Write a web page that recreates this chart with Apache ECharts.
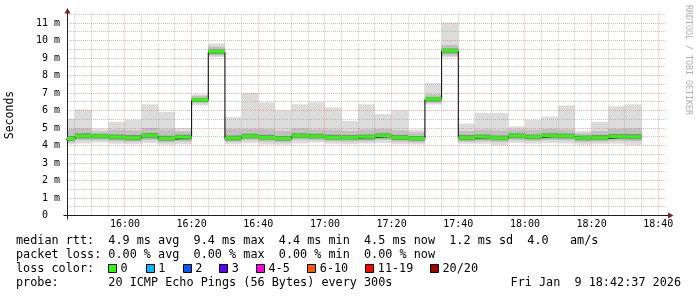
<!DOCTYPE html>
<html><head><meta charset="utf-8">
<script src="https://cdn.jsdelivr.net/npm/echarts@6/dist/echarts.min.js"></script>
<style>html,body{margin:0;padding:0;background:#fff}#c{width:697px;height:297px}</style>
</head><body><div id="c"></div>
<script>
// ---- data (ms) : one value per 300 s probe bucket, keyed by bucket end time ----
const bucketEnds = ['15:45','15:50','15:55','16:00','16:05','16:10','16:15','16:20','16:25','16:30',
  '16:35','16:40','16:45','16:50','16:55','17:00','17:05','17:10','17:15','17:20',
  '17:25','17:30','17:35','17:40','17:45','17:50','17:55','18:00','18:05','18:10',
  '18:15','18:20','18:25','18:30','18:35'];
const medianRtt = [4.37,4.52,4.50,4.46,4.42,4.55,4.38,4.45,6.59,9.36,
  4.39,4.51,4.44,4.37,4.54,4.51,4.44,4.43,4.46,4.53,
  4.43,4.38,6.63,9.40,4.42,4.46,4.41,4.53,4.47,4.54,
  4.52,4.42,4.42,4.49,4.48];
const maxRtt = [5.54,6.07,4.97,5.35,5.48,6.36,5.92,5.00,6.93,9.84,
  5.62,7.01,6.46,6.02,6.36,6.48,6.19,5.40,6.36,5.81,
  6.02,4.91,7.58,11.04,5.27,5.86,5.86,5.10,5.48,5.67,
  6.30,4.83,5.35,6.25,6.36];
const p90Rtt = [4.95,4.98,4.80,4.90,4.88,5.00,4.92,4.82,6.85,9.66,
  4.95,4.95,4.95,4.85,4.98,4.92,4.90,4.85,4.92,4.95,
  4.88,4.75,6.92,9.75,4.85,4.90,4.88,4.92,4.90,4.95,
  4.92,4.70,4.85,4.95,4.98];
const p75Rtt = [4.55,4.70,4.66,4.64,4.60,4.72,4.56,4.62,6.72,9.50,
  4.58,4.68,4.62,4.55,4.70,4.68,4.62,4.60,4.63,4.70,
  4.60,4.55,6.78,9.55,4.60,4.63,4.58,4.70,4.64,4.70,
  4.69,4.58,4.60,4.66,4.66];
const p25Rtt = [4.27,4.40,4.40,4.35,4.31,4.42,4.28,4.34,6.50,9.24,
  4.29,4.40,4.33,4.27,4.43,4.40,4.33,4.33,4.35,4.42,
  4.32,4.28,6.52,9.28,4.31,4.35,4.30,4.42,4.36,4.42,
  4.41,4.31,4.32,4.38,4.36];
const p10Rtt = [4.18,4.30,4.31,4.25,4.22,4.30,4.18,4.24,6.42,9.15,
  4.20,4.30,4.22,4.18,4.32,4.30,4.24,4.22,4.25,4.32,
  4.22,4.18,6.44,9.16,4.22,4.25,4.20,4.31,4.26,4.32,
  4.30,4.21,4.22,4.27,4.25];
const minRtt = [4.08,4.12,4.18,4.10,4.08,4.15,4.05,4.08,6.30,9.07,
  4.07,4.15,4.06,4.05,4.12,4.18,4.10,4.08,4.12,4.15,
  4.08,4.06,6.35,9.05,4.10,4.10,4.02,4.15,4.10,4.15,
  4.12,4.05,4.08,4.10,4.02];
const stepMinutes = 5;                 // probe every 300s
const timeStart = '15:42:37', timeEnd = '18:42:37';
const yMax = 11.5;
const xTickLabels = ['16:00','16:20','16:40','17:00','17:20','17:40','18:00','18:20','18:40'];
const lossLegend = [['0','#26ff00'],['1','#00b8ff'],['2','#0059ff'],['3','#5e00ff'],['4-5','#ff00e6'],['6-10','#ff5a00'],['11-19','#ff0000'],['20/20','#a10000']];
const statsRow1 = 'median rtt:  4.9 ms avg  9.4 ms max  4.4 ms min  4.5 ms now  1.2 ms sd  4.0   am/s';
const statsRow2 = 'packet loss: 0.00 % avg  0.00 % max  0.00 % min  0.00 % now';
const probeRow = 'probe:       20 ICMP Echo Pings (56 Bytes) every 300s';
const dateText = 'Fri Jan  9 18:42:37 2026';

// ---- helpers ----
const toMin = s => { const p = s.split(':').map(Number); return p[0]*60 + p[1] + (p[2]||0)/60; };
const fmtHM = v => { const m = Math.round(v); return String(Math.floor(m/60)).padStart(2,'0') + ':' + String(m%60).padStart(2,'0'); };
const X_MIN = toMin(timeStart), X_MAX = toMin(timeEnd);
const MONO = 'DejaVu Sans Mono';
const GRID = 'rgba(143,143,143,0.5)', MGRID = 'rgba(222,79,79,0.45)';

const smokeData = bucketEnds.map((e,i) => { const end = toMin(e);
  return [end - stepMinutes, end, minRtt[i], p10Rtt[i], p25Rtt[i], medianRtt[i], p75Rtt[i], p90Rtt[i], maxRtt[i]]; });
const stepLine = bucketEnds.map((e,i) => [toMin(e) - stepMinutes, medianRtt[i]]);
stepLine.push([toMin(bucketEnds[bucketEnds.length-1]), medianRtt[medianRtt.length-1]]);
const majorX = xTickLabels.map(toMin);

function clampX(cs, x){ return Math.max(cs.x, Math.min(cs.x + cs.width, x)); }

function smokeRender(params, api){
  const cs = params.coordSys;
  const t0 = api.value(0), t1 = api.value(1);
  const xa = clampX(cs, api.coord([t0, 0])[0]), xb = clampX(cs, api.coord([t1, 0])[0]);
  const band = (lo, hi, fill) => { const ya = api.coord([t0, api.value(lo)])[1], yb = api.coord([t0, api.value(hi)])[1];
    return {type:'rect', shape:{x:xa, y:yb, width:xb-xa, height:ya-yb}, style:{fill}}; };
  return {type:'group', children:[ band(2,8,'#dcdcdc'), band(3,7,'#c0c0c0'), band(4,6,'#888888') ]};
}
function greenRender(params, api){
  const cs = params.coordSys;
  const t0 = api.value(0), t1 = api.value(1);
  const xa = clampX(cs, api.coord([t0, 0])[0]), xb = clampX(cs, api.coord([t1, 0])[0]);
  const y = api.coord([t0, api.value(5)])[1];
  return {type:'rect', shape:{x:xa, y:y-2, width:xb-xa, height:3}, style:{fill:'#26ff00'}};
}
function gridRender(params, api){
  const cs = params.coordSys;
  const x0 = cs.x, x1 = cs.x + cs.width, yT = cs.y, yB = cs.y + cs.height;
  const snap = v => Math.floor(v) + 0.5;
  const ch = [];
  const hline = (v, c) => { const y = snap(api.coord([X_MIN, v])[1]); ch.push({type:'line', shape:{x1:x0, y1:y, x2:x1, y2:y}, style:{stroke:c, lineWidth:1, lineDash:[1,1]}}); };
  const vline = (t, c) => { const x = snap(api.coord([t, 0])[0]); ch.push({type:'line', shape:{x1:x, y1:yT, x2:x, y2:yB}, style:{stroke:c, lineWidth:1, lineDash:[1,1]}}); };
  for (let v = 0.5; v <= yMax + 1e-9; v += 1) hline(v, GRID);
  for (let t = Math.ceil(X_MIN/stepMinutes)*stepMinutes; t < X_MAX; t += stepMinutes) if (!majorX.some(m => Math.abs(m-t) < 1e-6)) vline(t, GRID);
  for (let v = 1; v <= yMax; v += 1) hline(v, MGRID);
  majorX.forEach(t => vline(t, MGRID));
  // axes with arrows
  const ax = snap(x0), ay = snap(yB);
  ch.push({type:'line', shape:{x1:ax-4, y1:ay, x2:x1+3, y2:ay}, style:{stroke:'#1f1f1f', lineWidth:1}});
  ch.push({type:'line', shape:{x1:ax, y1:ay+4, x2:ax, y2:yT-3}, style:{stroke:'#1f1f1f', lineWidth:1}});
  ch.push({type:'polygon', shape:{points:[[x1+6.5, ay],[x1+1, ay-3],[x1+1, ay+3]]}, style:{fill:'#801f1f'}});
  ch.push({type:'polygon', shape:{points:[[ax, yT-6.5],[ax-3, yT-1],[ax+3, yT-1]]}, style:{fill:'#801f1f'}});
  return {type:'group', children:ch};
}

const chart = echarts.init(document.getElementById('c'), null, {renderer:'canvas'});
const graphic = [
  {type:'text', x:10, y:115, rotation:Math.PI/2, style:{text:'Seconds', font:'11.5px "DejaVu Sans Mono"', fill:'#000', align:'center', verticalAlign:'middle'}},
  {type:'text', x:688, y:5, rotation:-Math.PI/2, style:{text:'RRDTOOL / TOBI OETIKER', font:'8.3px "DejaVu Sans Mono"', fill:'#b0b0b0', align:'left', verticalAlign:'middle'}},
  {type:'text', x:16, y:241, style:{text:statsRow1, font:'11.8px "DejaVu Sans Mono"', fill:'#000', verticalAlign:'middle'}},
  {type:'text', x:16, y:255, style:{text:statsRow2, font:'11.8px "DejaVu Sans Mono"', fill:'#000', verticalAlign:'middle'}},
  {type:'text', x:16, y:268.5, style:{text:'loss color:', font:'11.8px "DejaVu Sans Mono"', fill:'#000', verticalAlign:'middle'}},
  {type:'text', x:16, y:282.5, style:{text:probeRow, font:'11.8px "DejaVu Sans Mono"', fill:'#000', verticalAlign:'middle'}},
  {type:'text', x:681, y:282.5, style:{text:dateText, font:'11.8px "DejaVu Sans Mono"', fill:'#000', align:'right', verticalAlign:'middle'}}
];
const boxX = [108, 145.7, 182.7, 219.3, 256, 307.3, 365.3, 430];
lossLegend.forEach(([lab, col], i) => {
  graphic.push({type:'rect', shape:{x:Math.round(boxX[i])+0.5, y:264.5, width:8, height:8}, style:{fill:col, stroke:'#000', lineWidth:1}});
  graphic.push({type:'text', x:boxX[i]+12.5, y:268.5, style:{text:lab, font:'11.8px "DejaVu Sans Mono"', fill:'#000', verticalAlign:'middle'}});
});

chart.setOption({
  animation:false,
  backgroundColor:'#ffffff',
  grid:{left:67, right:30, top:14.5, bottom:81.5},
  xAxis:{type:'value', min:X_MIN, max:X_MAX, minInterval:20, maxInterval:20,
    axisLine:{show:false}, axisTick:{show:false}, splitLine:{show:false},
    axisLabel:{margin:4, fontFamily:MONO, fontSize:10, color:'#000',
      formatter: v => { const l = fmtHM(v); return (Math.abs(v - Math.round(v)) < 1e-6 && xTickLabels.includes(l)) ? l : ''; }}},
  yAxis:{type:'value', min:0, max:yMax, interval:1,
    axisLine:{show:false}, axisTick:{show:false}, splitLine:{show:false},
    axisLabel:{margin:7, fontFamily:MONO, fontSize:10, color:'#000', showMaxLabel:false,
      formatter: v => v === 0 ? '0  ' : (Number.isInteger(v) ? v + ' m' : '')}},
  graphic,
  series:[
    {type:'custom', renderItem:smokeRender, data:smokeData, encode:{x:[0,1], y:[2,8]}, z:1, clip:true, silent:true},
    {type:'custom', renderItem:gridRender, data:[[X_MIN, 0]], encode:{x:0, y:1}, z:2, silent:true},
    {type:'line', data:stepLine, step:'end', symbol:'none', lineStyle:{color:'#000', width:1}, z:3, silent:true},
    {type:'custom', renderItem:greenRender, data:smokeData, encode:{x:[0,1], y:[5]}, z:4, clip:true, silent:true}
  ]
});
</script></body></html>
